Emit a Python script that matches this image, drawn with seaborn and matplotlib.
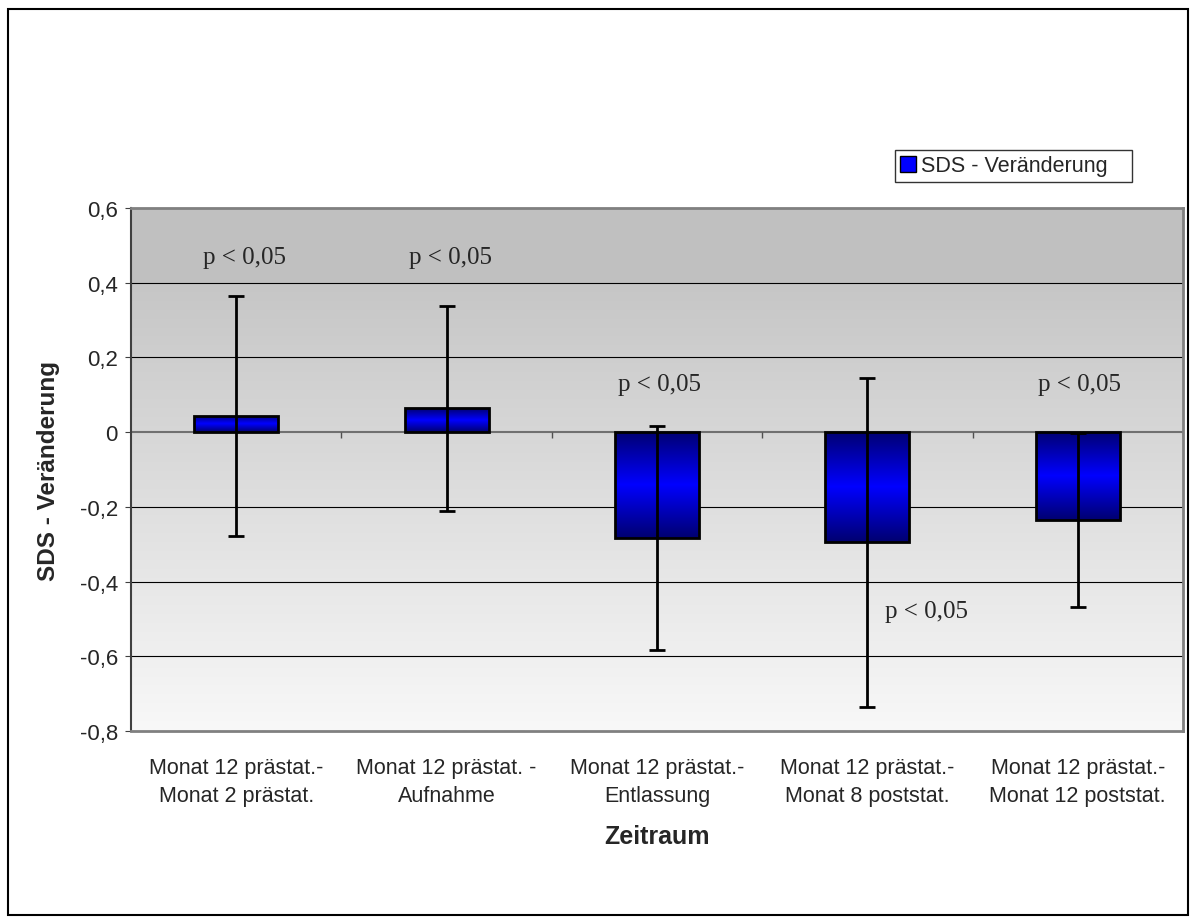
import numpy as np
import pandas as pd
import seaborn as sns
import matplotlib.pyplot as plt
from matplotlib.patches import Patch, Rectangle
from matplotlib.colors import LinearSegmentedColormap

## Data
categories = ["Monat 12 prästat.-\nMonat 2 prästat.",
              "Monat 12 prästat. -\nAufnahme",
              "Monat 12 prästat.-\nEntlassung",
              "Monat 12 prästat.-\nMonat 8 poststat.",
              "Monat 12 prästat.-\nMonat 12 poststat."]
sds_change = [0.043, 0.064, -0.284, -0.295, -0.236]
sds_err = [0.322, 0.275, 0.300, 0.440, 0.233]
p_labels = ["p < 0,05"] * 5
y_ticks = [-0.8, -0.6, -0.4, -0.2, 0, 0.2, 0.4, 0.6]
y_ticklabels = ["-0,8", "-0,6", "-0,4", "-0,2", "0", "0,2", "0,4", "0,6"]

df = pd.DataFrame({"Zeitraum": categories, "SDS": sds_change, "err": sds_err})

sns.set_style("white")
plt.rcParams['font.family'] = ['Liberation Sans', 'DejaVu Sans']

fig = plt.figure(figsize=(11.9, 9.2), dpi=100)
ax = fig.add_axes([0.1101, 0.2043, 0.8840, 0.5685])

# Bars
sns.barplot(df, x="Zeitraum", y="SDS", color="blue", width=0.4,
            errorbar=None, ax=ax, zorder=2)
grad = np.linspace(0, 1, 256).reshape(-1, 1)
barcmap = LinearSegmentedColormap.from_list("bar", ["#000070", "#0000ff", "#000070"])
for p in ax.containers[0]:
	x0, y0 = p.get_x(), p.get_y()
	w, h = p.get_width(), p.get_height()
	im = ax.imshow(grad, cmap=barcmap, aspect="auto", origin="lower",
	               extent=[x0, x0 + w, min(y0, y0 + h), max(y0, y0 + h)], zorder=2.1)
	im.set_clip_path(p)
	p.set_facecolor("none")
	p.set_edgecolor("black")
	p.set_linewidth(2)
	p.set_zorder(2.2)

# Background gradient
bg = LinearSegmentedColormap.from_list("bg", ["#f8f8f8", "#c6c6c6"])
ax.imshow(grad, cmap=bg, aspect="auto", origin="lower",
          extent=[-0.5, 4.5, -0.8, 0.4], zorder=0)
ax.axhspan(0.4, 0.6, color="#c0c0c0", zorder=0, lw=0)

ax.errorbar(range(len(categories)), sds_change, yerr=sds_err, fmt="none",
            ecolor="black", elinewidth=2, capsize=5.5, capthick=2, zorder=3)

# Grid and zero line
for yt in y_ticks[1:-1]:
	if yt != 0:
		ax.axhline(yt, color="black", lw=0.8, zorder=1)
ax.axhline(0, color="#707070", lw=1.5, zorder=1.5)
ax.vlines(np.arange(0.5, 5.0, 1.0), -0.016, 0, color="#505050", lw=1, zorder=1.5)

ax.set_xlim(-0.5, 4.5)
ax.set_ylim(-0.8, 0.6)
ax.set_yticks(y_ticks)
ax.set_yticklabels(y_ticklabels, fontsize=16)
ax.tick_params(axis="y", direction="out", length=4.5, color="#404040", left=True, pad=5)
ax.tick_params(axis="x", length=0, labelsize=15.5, pad=19)
for lab in ax.get_xticklabels():
	lab.set_linespacing(1.4)
for s in ["top", "right", "bottom"]:
	ax.spines[s].set_color("#808080")
	ax.spines[s].set_linewidth(2)
ax.spines["left"].set_color("#404040")
ax.spines["left"].set_linewidth(1.5)

ax.set_xlabel("Zeitraum", fontsize=18, fontweight="bold", labelpad=13)
ax.set_ylabel("SDS - Veränderung", fontsize=17.5, fontweight="bold", labelpad=14)

# p-value annotations
p_pos = [(0.04, 0.47), (1.02, 0.47), (2.01, 0.128), (3.28, -0.48), (4.01, 0.128)]
for (tx, ty), lab in zip(p_pos, p_labels):
	ax.text(tx, ty, lab, ha="center", va="center", fontsize=18,
	        family="Liberation Serif", zorder=4)

# Legend
leg = fig.legend(handles=[Patch(facecolor="blue", edgecolor="black", label="SDS - Veränderung   ")],
                 loc="center", bbox_to_anchor=(0.8513, 0.8185), frameon=True, fancybox=False,
                 fontsize=15.5, handlelength=0.75, handleheight=0.75, handletextpad=0.25,
                 borderpad=0.25, borderaxespad=0)
leg.get_frame().set_edgecolor("black")
leg.get_frame().set_linewidth(1)

# Outer frame
fig.patches.append(Rectangle((0.0067, 0.004), 0.992, 0.985, transform=fig.transFigure,
                             fill=False, edgecolor="black", lw=1.5))

fig.savefig("out.png", dpi=100)
